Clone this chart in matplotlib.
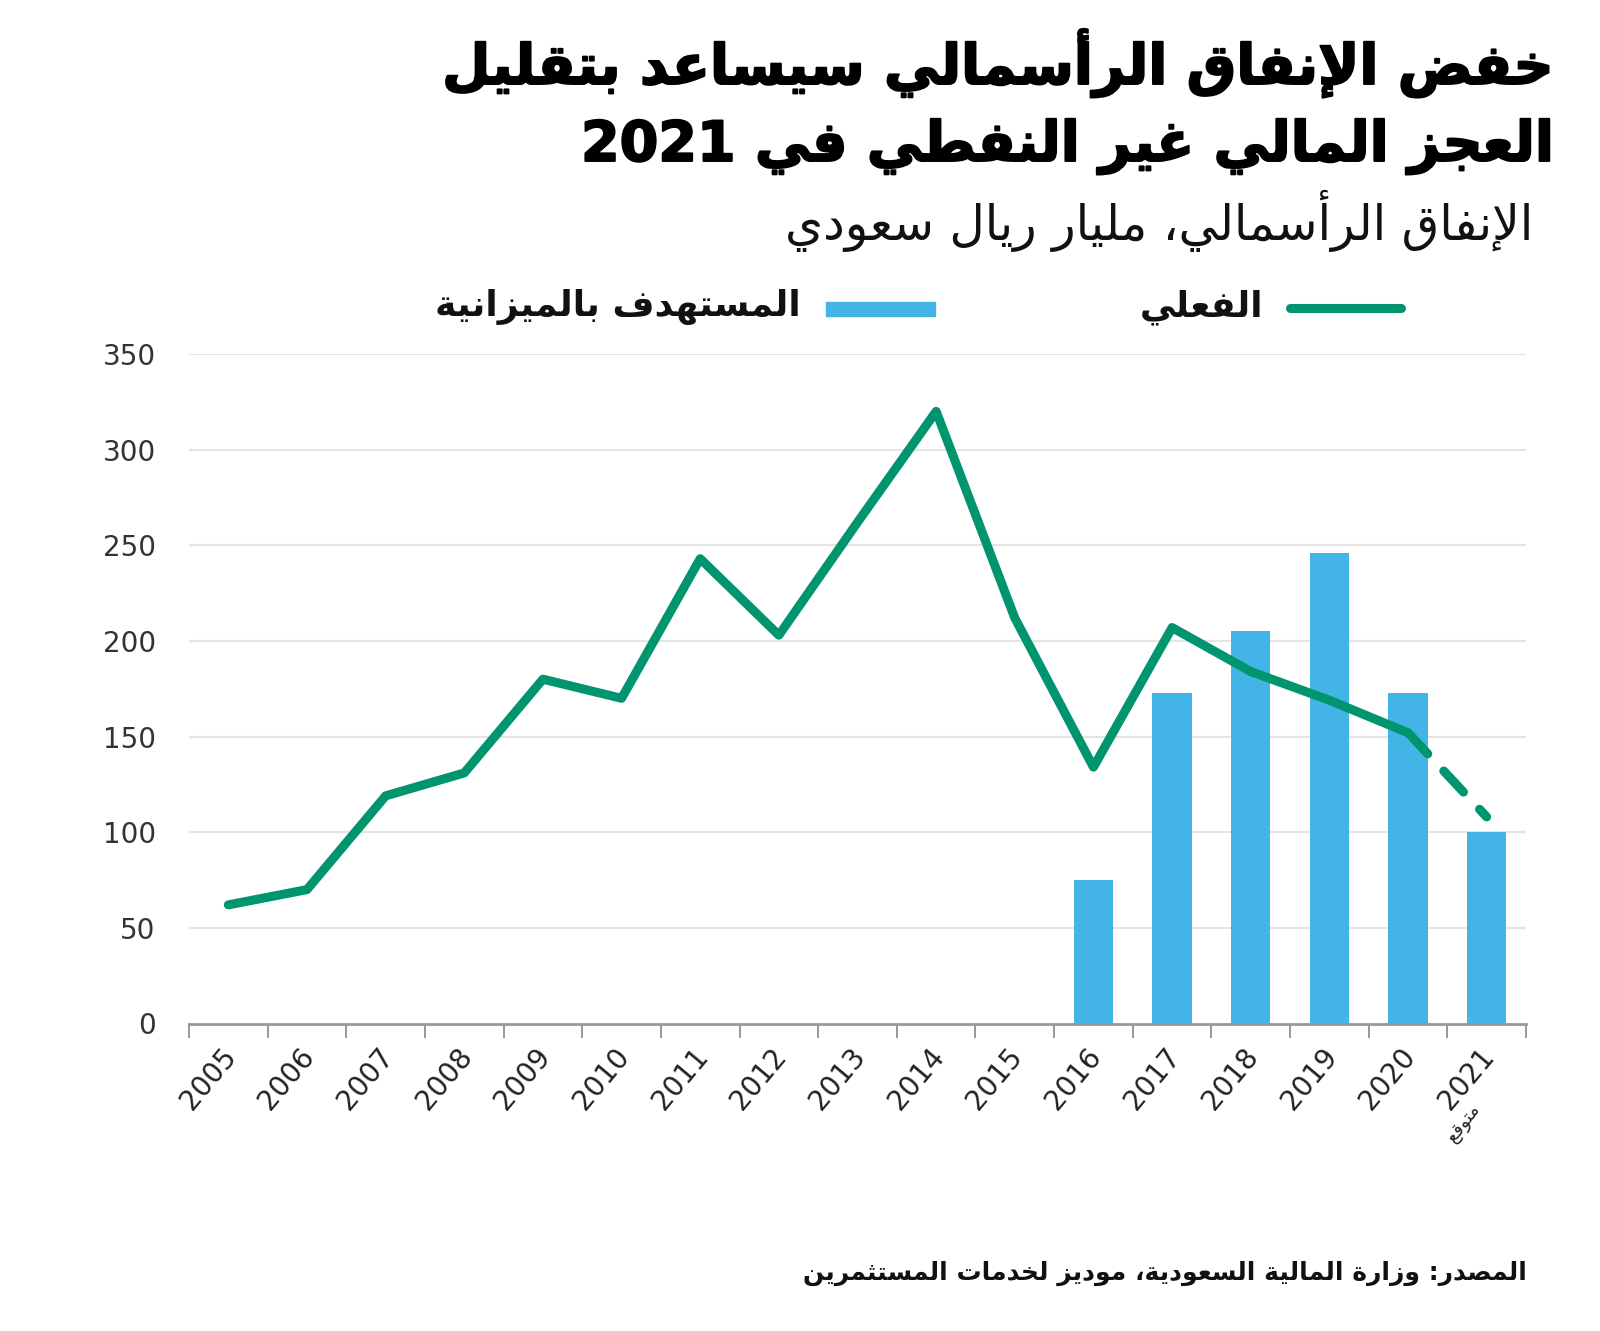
import re
import numpy as np
import matplotlib
matplotlib.use("Agg")
import matplotlib.pyplot as plt
import matplotlib.transforms as mtransforms
import matplotlib.patheffects as pe
from matplotlib.lines import Line2D
from matplotlib.patches import Rectangle

# ---- data ----
years = ['2005', '2006', '2007', '2008', '2009', '2010', '2011', '2012', '2013',
         '2014', '2015', '2016', '2017', '2018', '2019', '2020', '2021']
actual = [62, 70, 119, 131, 180, 170, 243, 203, 262, 320, 212, 134, 207, 184, 169, 152]
forecast_2021 = 108
budget_years = ['2016', '2017', '2018', '2019', '2020', '2021']
budget = [75, 173, 205, 246, 173, 100]

title1 = "خفض الإنفاق الرأسمالي سيساعد بتقليل"
title2 = "العجز المالي غير النفطي في 2021"
subtitle = "الإنفاق الرأسمالي، مليار ريال سعودي"
lab_actual = "الفعلي"
lab_budget = "المستهدف بالميزانية"
lab_forecast = "متوقع"
source = "المصدر: وزارة المالية السعودية، موديز لخدمات المستثمرين"

GREEN = "#00956f"
BLUE = "#42b4e6"

# ---- minimal arabic shaping (presentation forms) + rtl ordering ----
FORMS = {
    'ء': (0xFE80, None, None, None),
    'آ': (0xFE81, 0xFE82, None, None),
    'أ': (0xFE83, 0xFE84, None, None),
    'ؤ': (0xFE85, 0xFE86, None, None),
    'إ': (0xFE87, 0xFE88, None, None),
    'ئ': (0xFE89, 0xFE8A, 0xFE8B, 0xFE8C),
    'ا': (0xFE8D, 0xFE8E, None, None),
    'ب': (0xFE8F, 0xFE90, 0xFE91, 0xFE92),
    'ة': (0xFE93, 0xFE94, None, None),
    'ت': (0xFE95, 0xFE96, 0xFE97, 0xFE98),
    'ث': (0xFE99, 0xFE9A, 0xFE9B, 0xFE9C),
    'ج': (0xFE9D, 0xFE9E, 0xFE9F, 0xFEA0),
    'ح': (0xFEA1, 0xFEA2, 0xFEA3, 0xFEA4),
    'خ': (0xFEA5, 0xFEA6, 0xFEA7, 0xFEA8),
    'د': (0xFEA9, 0xFEAA, None, None),
    'ذ': (0xFEAB, 0xFEAC, None, None),
    'ر': (0xFEAD, 0xFEAE, None, None),
    'ز': (0xFEAF, 0xFEB0, None, None),
    'س': (0xFEB1, 0xFEB2, 0xFEB3, 0xFEB4),
    'ش': (0xFEB5, 0xFEB6, 0xFEB7, 0xFEB8),
    'ص': (0xFEB9, 0xFEBA, 0xFEBB, 0xFEBC),
    'ض': (0xFEBD, 0xFEBE, 0xFEBF, 0xFEC0),
    'ط': (0xFEC1, 0xFEC2, 0xFEC3, 0xFEC4),
    'ظ': (0xFEC5, 0xFEC6, 0xFEC7, 0xFEC8),
    'ع': (0xFEC9, 0xFECA, 0xFECB, 0xFECC),
    'غ': (0xFECD, 0xFECE, 0xFECF, 0xFED0),
    'ف': (0xFED1, 0xFED2, 0xFED3, 0xFED4),
    'ق': (0xFED5, 0xFED6, 0xFED7, 0xFED8),
    'ك': (0xFED9, 0xFEDA, 0xFEDB, 0xFEDC),
    'ل': (0xFEDD, 0xFEDE, 0xFEDF, 0xFEE0),
    'م': (0xFEE1, 0xFEE2, 0xFEE3, 0xFEE4),
    'ن': (0xFEE5, 0xFEE6, 0xFEE7, 0xFEE8),
    'ه': (0xFEE9, 0xFEEA, 0xFEEB, 0xFEEC),
    'و': (0xFEED, 0xFEEE, None, None),
    'ى': (0xFEEF, 0xFEF0, None, None),
    'ي': (0xFEF1, 0xFEF2, 0xFEF3, 0xFEF4),
}
LAM_ALEF = {'آ': (0xFEF5, 0xFEF6), 'أ': (0xFEF7, 0xFEF8),
            'إ': (0xFEF9, 0xFEFA), 'ا': (0xFEFB, 0xFEFC)}


def joining(c):
    return isinstance(c, tuple) or (c in FORMS and c != 'ء')


def dual(c):
    return (not isinstance(c, tuple)) and c in FORMS and FORMS[c][2] is not None


def ar(text):
    items = []
    i = 0
    while i < len(text):
        c = text[i]
        if c == 'ل' and i + 1 < len(text) and text[i + 1] in LAM_ALEF:
            items.append(('LA', text[i + 1]))
            i += 2
        else:
            items.append(c)
            i += 1
    out = []
    for k, c in enumerate(items):
        prev_j = k > 0 and dual(items[k - 1]) and joining(c)
        next_j = dual(c) and k + 1 < len(items) and joining(items[k + 1])
        if isinstance(c, tuple):
            iso, fin = LAM_ALEF[c[1]]
            out.append(chr(fin if prev_j else iso))
        elif c in FORMS:
            iso, fin, ini, med = FORMS[c]
            if prev_j and next_j:
                g = med
            elif prev_j:
                g = fin
            elif next_j:
                g = ini
            else:
                g = iso
            out.append(chr(g))
        else:
            out.append(c)
    s = ''.join(out)
    tokens = re.findall(r'[0-9]+|[^0-9]', s)
    return ''.join(reversed(tokens))


AR_FONT = ['DejaVu Sans']

# ---- figure ----
W, H = 1600, 1331
fig = plt.figure(figsize=(16, 13.31), dpi=100)


def fx(px):
    return px / W


def fy(py):
    return 1 - py / H


ax = fig.add_axes([fx(189), fy(1023.5), fx(1526) - fx(189), fy(354) - fy(1023.5)])

x = np.arange(len(years))
bx = [years.index(y) for y in budget_years]
ax.bar(bx, budget, width=0.5, color=BLUE, zorder=2)

ax.plot(x[:len(actual)], actual, color=GREEN, lw=6.5, solid_capstyle='round',
        solid_joinstyle='round', zorder=3)
ax.plot([x[len(actual) - 1], x[len(actual)]], [actual[-1], forecast_2021],
        color=GREEN, lw=6.5, dashes=(3.2, 2.6), dash_capstyle='round', zorder=3)

ax.set_ylim(0, 350)
ax.set_xlim(-0.5, len(years) - 0.5)
ax.set_yticks(np.arange(0, 351, 50))
ax.yaxis.grid(True, color='#e4e4e4', lw=1.5, zorder=0)
ax.set_axisbelow(True)
ax.tick_params(axis='y', length=0, pad=24, labelsize=20, labelcolor='#333333')
for lab in ax.get_yticklabels():
    lab.set_fontfamily('DejaVu Sans')

ax.set_xticks(x)
ax.set_xticklabels(years, rotation=50, ha='right', rotation_mode='anchor',
                   fontsize=20, color='#222222', family='DejaVu Sans')
ax.tick_params(axis='x', which='major', length=0, pad=14)
shift = mtransforms.ScaledTranslation(-0.08, 0, fig.dpi_scale_trans)
for lab in ax.get_xticklabels():
    lab.set_transform(lab.get_transform() + shift)
ax.set_xticks(np.arange(-0.5, len(years), 1), minor=True)
ax.tick_params(axis='x', which='minor', length=10, width=1.2, color='#888888')

for s in ['left', 'right', 'top']:
    ax.spines[s].set_visible(False)
ax.spines['bottom'].set_color('#999999')
ax.spines['bottom'].set_linewidth(2)

# "forecast" note under 2021
fig.text(fx(1464), fy(1124), ar(lab_forecast), rotation=52, ha='center', va='center',
         fontsize=13, family=AR_FONT, color='#222222', rotation_mode='anchor')

# ---- titles ----
heavy = [pe.withStroke(linewidth=1.4, foreground='black')]
fig.text(fx(1553), fy(84), ar(title1), ha='right', va='baseline', fontsize=40,
         fontweight='bold', family=AR_FONT, color='black', path_effects=heavy)
fig.text(fx(1553), fy(161), ar(title2), ha='right', va='baseline', fontsize=40,
         fontweight='bold', family=AR_FONT, color='black', path_effects=heavy)
fig.text(fx(1533), fy(240), ar(subtitle), ha='right', va='baseline', fontsize=35,
         family=AR_FONT, color='#111111')

# ---- legend ----
fig.add_artist(Line2D([fx(1290), fx(1401)], [fy(308), fy(308)], color=GREEN, lw=6.5,
                      solid_capstyle='round', transform=fig.transFigure))
fig.text(fx(1263), fy(316), ar(lab_actual), ha='right', va='baseline', fontsize=26,
         fontweight='bold', family=AR_FONT, color='#111111')
fig.add_artist(Rectangle((fx(826), fy(316)), fx(935) - fx(826), fy(302) - fy(316),
                         color=BLUE, transform=fig.transFigure))
fig.text(fx(801), fy(316), ar(lab_budget), ha='right', va='baseline', fontsize=26,
         fontweight='bold', family=AR_FONT, color='#111111')

# ---- source ----
fig.text(fx(1527), fy(1280), ar(source), ha='right', va='baseline', fontsize=18,
         fontweight='bold', family=AR_FONT, color='#111111')

fig.savefig('out.png', dpi=100, facecolor='white')
